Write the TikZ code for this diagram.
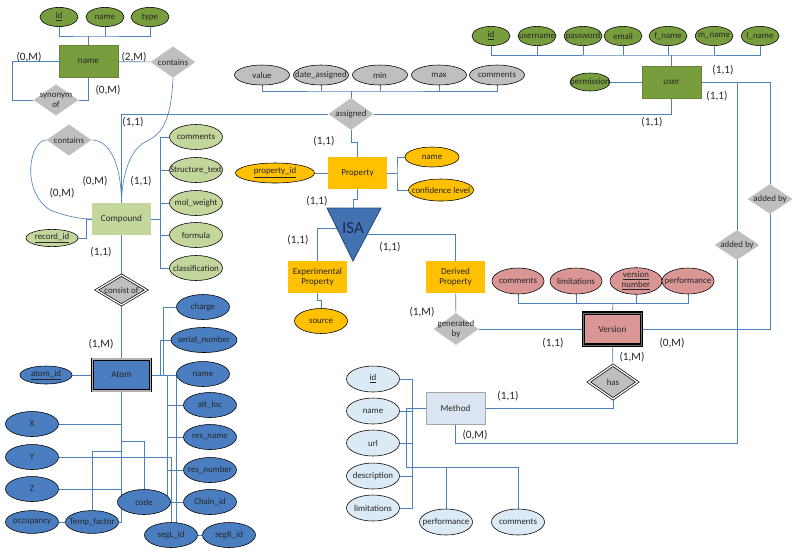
\documentclass[tikz,border=0pt]{standalone}
\usepackage{fontspec}
\setmainfont{Carlito}
\usetikzlibrary{shapes.geometric, backgrounds}

\begin{document}
\begin{tikzpicture}[x=0.025cm, y=-0.025cm,
    ent/.style={rectangle, minimum width=1.475cm, minimum height=0.8cm, inner sep=1pt, align=center, font=\fontsize{6.5}{7.5}\selectfont, text=black!85},
    greenent/.style={ent, fill=dkgreen, draw=dkgreen!85!black, line width=0.3pt},
    goldent/.style={ent, fill=gold},
    attr/.style={ellipse, draw=black, line width=0.4pt, minimum width=1.325cm, minimum height=0.625cm, inner xsep=-12pt, inner ysep=0pt, align=center, font=\fontsize{6.3}{7}\selectfont, text=black!85},
    topattr/.style={attr, fill=dkgreen, minimum width=0.95cm, minimum height=0.48cm},
    gattr/.style={attr, fill=ltgreen},
    grayattr/.style={attr, fill=relgray, minimum width=1.375cm, minimum height=0.5cm},
    battr/.style={attr, fill=atomblue},
    yattr/.style={attr, fill=gold},
    rattr/.style={attr, fill=rose},
    mattr/.style={attr, fill=ltblue},
    rel/.style={diamond, fill=relgray, minimum width=1.125cm, minimum height=0.78cm, inner xsep=-12pt, inner ysep=0pt, align=center, font=\fontsize{6.3}{7}\selectfont, text=black!85},
    weakrel/.style={rel, draw=black, double=white, double distance=0.9pt, line width=0.5pt},
    lnk/.style={draw=lnkblue, line width=0.45pt},
    card/.style={font=\fontsize{8}{9}\selectfont, text=black!85}
]

% Colours
\definecolor{dkgreen}{RGB}{119,157,62}
\definecolor{ltgreen}{RGB}{195,214,155}
\definecolor{gold}{RGB}{255,192,0}
\definecolor{atomblue}{RGB}{74,126,193}
\definecolor{isablue}{RGB}{66,114,177}
\definecolor{isaborder}{RGB}{41,74,125}
\definecolor{isatext}{RGB}{24,42,80}
\definecolor{rose}{RGB}{217,150,148}
\definecolor{ltblue}{RGB}{219,234,244}
\definecolor{methodfill}{RGB}{219,229,241}
\definecolor{relgray}{RGB}{191,191,191}
\definecolor{lnkblue}{RGB}{79,129,189}

\useasboundingbox (0,0) rectangle (800,555);

% --- name entity ---
\foreach \nm/\x/\txt in {nId/59/{\underline{id}}, nName/105/name, nType/150/type}
    \node[topattr] (\nm) at (\x,17) {\txt};
\node[greenent] (nameBox) at (88.5,61.5) {name};
\node[rel] (contA) at (173,62) {contains};
\node[rel] (synonym) at (56,100) {synonym\\of};
\node[rel] (contB) at (69,140) {contains};

% --- Compound ---
\node[ent, fill=ltgreen] (compound) at (121.5,219) {Compound};
\foreach \nm/\y/\txt in {cComments/137/comments, cStruct/170/Structure\_text, cMolw/203/mol\_weight, cFormula/235/formula, cClass/268/classification}
    \node[gattr] (\nm) at (196,\y) {\txt};
\node[gattr, minimum width=1.3cm, minimum height=0.43cm] (recId) at (52,238) {\underline{record\_id}};
\node[weakrel, minimum width=1.25cm, minimum height=0.75cm] (consist) at (121.5,290) {consist of};

% --- Atom ---
\node[ent, fill=atomblue, draw=black, double=gray!60, double distance=1.4pt, line width=0.5pt, minimum width=1.45cm, minimum height=0.78cm] (atom) at (121.5,375) {Atom};
\node[battr, minimum width=1.3cm, minimum height=0.45cm] (atomId) at (46,375) {\underline{atom\_id}};
\foreach \nm/\y/\txt in {aX/424/X, aY/457/Y, aZ/489/Z}
    \node[battr] (\nm) at (32,\y) {\txt};
\node[battr, minimum height=0.57cm] (aOcc) at (32,522) {occupancy};
\node[battr, minimum height=0.57cm] (aTemp) at (92,522) {Temp\_factor};
\node[battr] (aCode) at (144,502) {code};
\node[battr] (aCharge) at (203,307) {charge};
\node[battr, minimum width=1.65cm] (aSerial) at (204,340) {serial\_number};
\node[battr] (aName) at (203,374) {name};
\foreach \nm/\y/\txt in {aAlt/405/alt\_loc, aResN/437/res\_name, aResNum/470/res\_number, aChain/502/Chain\_id}
    \node[battr] (\nm) at (210,\y) {\txt};
\node[battr] (aSegL) at (171,535) {segL\_id};
\node[battr] (aSegR) at (229,535) {segR\_id};

% --- assigned ---
\foreach \nm/\x/\txt in {aVal/262/value, aDate/321/date\_assigned, aMin/380/min, aMax/439/max, aCom/497/comments}
    \node[grayattr] (\nm) at (\x,75) {\txt};
\node[rel, minimum height=0.8cm] (assigned) at (351,114) {assigned};

% --- user ---
\foreach \nm/\x/\txt in {uId/491/{\underline{id}}, uUser/537/username, uPass/583/password, uEmail/623/email, uF/668/f\_name, uM/714/m\_name, uL/760/l\_name}
    \node[topattr] (\nm) at (\x,36) {\txt};
\node[greenent] (user) at (671.5,82) {user};
\node[topattr, minimum width=1cm, minimum height=0.45cm] (uPerm) at (590,82) {permission};
\node[rel, minimum height=0.75cm] (addB) at (770,199) {added by};
\node[rel, minimum height=0.75cm] (addA) at (737,245) {added by};

% --- Property and ISA ---
\node[goldent] (property) at (357.5,173) {Property};
\node[yattr, minimum width=1.975cm, minimum height=0.5cm] (pId) at (275,173) {\underline{property\_id}};
\node[yattr, minimum width=1.35cm, minimum height=0.5cm] (pName) at (432,157) {name};
\node[yattr, minimum width=1.625cm, minimum height=0.55cm] (pConf) at (441,190) {confidence level};
\draw[fill=isablue, draw=isaborder, line width=0.6pt] (327,208) -- (381,208) -- (353,261) -- cycle;
\node[font=\fontsize{12}{14}\selectfont, text=isatext] (isa) at (353,228) {ISA};
\coordinate (isaTop) at (353,208);
\coordinate (isaL) at (337,228);
\coordinate (isaR) at (367,234);
\node[goldent] (expProp) at (317.5,277) {Experimental\\Property};
\node[goldent] (derProp) at (455.5,277) {Derived\\Property};
\node[yattr] (source) at (321,321) {source};
\node[rel, minimum height=0.8cm] (genBy) at (456,329) {generated\\by};

% --- Version ---
\node[ent, fill=rose, draw=black, double=black!55, double distance=0.7pt, line width=1pt, minimum width=1.45cm, minimum height=0.8cm] (version) at (612.5,329) {Version};
\foreach \nm/\x/\txt in {vCom/518/comments, vLim/576/limitations, vNum/636/{\underline{version}\\\underline{number}}, vPerf/688/performance}
    \node[rattr, minimum width=1.3cm, minimum height=0.65cm] (\nm) at (\x,281) {\txt};
\node[weakrel, minimum width=1.225cm, minimum height=0.85cm] (has) at (613,382) {has};

% --- Method ---
\node[ent, fill=methodfill, draw=gray!70, line width=0.4pt] (method) at (455.5,408) {Method};
\foreach \nm/\y/\txt in {mId/379/{\underline{id}}, mName/411/name, mUrl/443/url, mDesc/476/description, mLim/508/limitations}
    \node[mattr, minimum height=0.65cm] (\nm) at (373,\y) {\txt};
\node[mattr, minimum height=0.65cm] (mPerf) at (446,522) {performance};
\node[mattr, minimum height=0.65cm] (mCom) at (518,522) {comments};

% --- Cardinalities ---
\foreach \x/\y/\t [count=\i] in {29/57/{(0,M)}, 134/57/{(2,M)}, 108/90/{(0,M)}, 133/122/{(1,1)}, 95/181/{(0,M)}, 62/193/{(0,M)}, 141/181/{(1,1)}, 101/252/{(1,1)}, 101/344/{(1,M)}, 324/141/{(1,1)}, 317/201/{(1,1)}, 298/240/{(1,1)}, 390/247/{(1,1)}, 422/312/{(1,M)}, 553/343/{(1,1)}, 652/122/{(1,1)}, 723/70/{(1,1)}, 717/96/{(1,1)}, 672/343/{(0,M)}, 632/357/{(1,M)}, 508/396/{(1,1)}, 475/435/{(0,M)}}
    \node[card] (card\i) at (\x,\y) {\t};

% --- Connectors (behind the shapes) ---
\begin{scope}[on background layer]
\fill[white] (0,0) rectangle (800,555);

% name
\coordinate (nBus) at (88,36);
\draw[lnk] (nId.south) |- (nBus) -| (nType.south);
\draw[lnk] (nName.south) -- (nName.south |- nBus);
\draw[lnk] (nameBox.north) -- (nameBox.north |- nBus);
\draw[lnk] (nameBox) -- (contA);
\draw[lnk] (nameBox.west) -- ++(-46,0) |- (synonym.west);
\draw[lnk] (synonym.east) -| (nameBox.south);

% contains curves
\draw[lnk] (contA.south) .. controls (171,125) and (160,135) .. (145,142) .. controls (130,150) and (122,175) .. (compound.north);
\draw[lnk] (contB.east) .. controls (108,140) and (121,160) .. (compound.north);
\draw[lnk] (contB.west) .. controls (30,140) and (20,190) .. (50,210) .. controls (65,216) and (80,219) .. (compound.west);

% compound
\draw[lnk] (compound.north) |- (assigned.west);
\draw[lnk] (cComments.west) -- ++(-9,0) |- (cClass.west);
\foreach \a in {cStruct, cMolw, cFormula}
    \draw[lnk] (\a.west) -- ++(-9,0);
\draw[lnk] (compound.east) -- ++(9.5,0);
\draw[lnk] (recId.east) -- ++(8,0) |- (compound.west);
\draw[lnk] (compound) -- (consist) -- (atom);

% atom
\draw[lnk] (atomId) -- (atom);
\draw[lnk] (atom.south) |- (aTemp.east);
\draw[lnk] (aX.east) -- (aX.east -| atom.south);
\draw[lnk] (aZ.east) -- (aZ.east -| atom.south);
\draw[lnk] (aY.east) -| (aSegL.north);
\draw[lnk] (aTemp.north) -- ++(0,-59.5) -| (atom.south);
\draw[lnk] (aCode.north) -- ++(0,-48) -| (atom.south);
\draw[lnk] (aOcc) -- (aTemp);
\draw[lnk] (atom.east) -- (atom.east -| aName.west);
\draw[lnk] (aCharge.west) -- ++(-13,0) |- (atom.east);
\draw[lnk] (aSerial.west) -- ++(-10,0) |- (atom.east);
\coordinate (aV) at (167.5,375);
\draw[lnk] (aV) -- ++(0,121);
\foreach \a in {aAlt, aResN, aResNum}
    \draw[lnk] (\a.west) -- (\a.west -| aV);
\draw[lnk] (aCode) -- (aChain);
\draw[lnk] (atom.east -| aName.west) -- ++(0,148);
\draw[lnk] (aSegL) -- (aSegR);

% assigned and user
\coordinate (asBus) at (351,91);
\draw[lnk] (aVal.south) |- (asBus) -| (aCom.south);
\foreach \a in {aDate, aMin, aMax}
    \draw[lnk] (\a.south) -- (\a.south |- asBus);
\draw[lnk] (assigned.north) -- (asBus);
\draw[lnk] (assigned.east) -| (user.south);
\coordinate (uBus) at (672,55);
\draw[lnk] (uId.south) |- (uBus) -| (uL.south);
\foreach \a in {uUser, uPass, uEmail, uF, uM}
    \draw[lnk] (\a.south) -- (\a.south |- uBus);
\draw[lnk] (user.north) -- (user.north |- uBus);
\draw[lnk] (uPerm) -- (user);
\draw[lnk] (user.east) -| (addB.north);
\draw[lnk] (addA.north) -- (addA.north |- user.east);

% property
\draw[lnk] (assigned.south) -- ++(0,12) -| (property.north);
\draw[lnk] (pId) -- (property);
\coordinate (pBus) at (397,173);
\draw[lnk] (property.east) -- (pBus);
\draw[lnk] (pName.west) -| (pBus) |- (pConf.west);
\draw[lnk] (property.south) -- ++(0,10) -| (isaTop);
\draw[lnk] (isaL) -| (expProp.north);
\draw[lnk] (isaR) -| (derProp.north);
\draw[lnk] (expProp.south) -- ++(0,7) -| (source.north);
\draw[lnk] (derProp) -- (genBy);
\draw[lnk] (genBy) -- (version);

% version
\coordinate (vBus) at (613,303);
\draw[lnk] (vCom.south) |- (vBus) -| (vPerf.south);
\foreach \a in {vLim, vNum}
    \draw[lnk] (\a.south) -- (\a.south |- vBus);
\draw[lnk] (version.north) -- (vBus);
\draw[lnk] (version.east) -| (addB.south);
\draw[lnk] (version) -- (has);
\draw[lnk] (has.south) |- (method.east);

% method
\draw[lnk] (method.south) -- ++(0,19) -| (addA.south);
\draw[lnk] (mId.east) -- ++(13,0) |- (mLim.east);
\foreach \a in {mName, mUrl, mDesc}
    \draw[lnk] (\a.east) -- ++(13,0);
\draw[lnk] (method.west) -- ++(-19,0) -- ++(0,59) -| (mCom.north);
\draw[lnk] (mPerf.north) -- ++(0,-42);
\end{scope}

\end{tikzpicture}
\end{document}
